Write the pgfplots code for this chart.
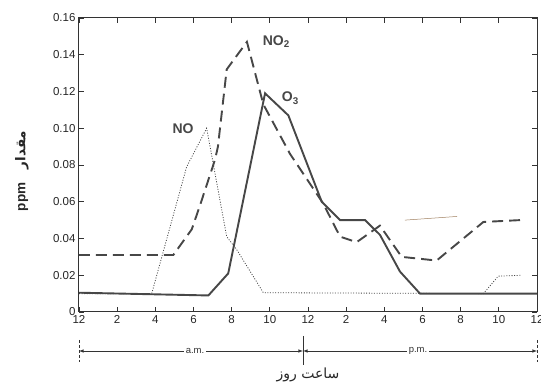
\documentclass[border=0pt]{standalone}
\usepackage{pgfplots}
\pgfplotsset{compat=1.18}
\usepackage{fontspec}
\setmainfont{Liberation Sans}
\newfontfamily\arabicfont[Script=Arabic]{DejaVu Sans}
\TeXXeTstate=1
\definecolor{ink}{gray}{0.28}
\begin{document}
\begin{tikzpicture}
\path[use as bounding box] (-79pt,-75pt) rectangle (462pt,312pt);
\begin{axis}[
  at={(0,0)}, anchor=south west, scale only axis,
  width=458pt, height=294pt,
  xmin=0, xmax=24, ymin=0, ymax=0.16,
  xtick={0,2,4,6,8,10,12,14,16,18,20,22,24},
  xticklabels={12,2,4,6,8,10,12,2,4,6,8,10,12},
  ytick={0,0.02,0.04,0.06,0.08,0.10,0.12,0.14,0.16},
  yticklabels={0,0.02,0.04,0.06,0.08,0.10,0.12,0.14,0.16},
  tick label style={font=\fontsize{11.5}{13}\selectfont, text=black!85},
  /pgf/number format/assume math mode=true,
  axis line style={line width=1pt, color=black!80},
  tick style={black!80, line width=0.8pt},
  major tick length=5pt,
  clip=false,
]
% NO2 (dashed)
\addplot[ink, line width=1.9pt, dash pattern=on 11pt off 6pt] coordinates {
 (0,0.031) (4.94,0.031) (5.91,0.045) (6.34,0.058) (7.13,0.083) (7.28,0.090)
 (7.74,0.132) (8.09,0.137) (8.80,0.147) (9.66,0.113) (11.06,0.086) (12.80,0.059)
 (13.68,0.041) (14.55,0.038) (15.77,0.047) (16.91,0.030) (18.74,0.028)
 (21.19,0.049) (23.11,0.050)
};
% O3 (solid)
\addplot[ink, line width=1.9pt] coordinates {
 (0,0.0105) (6.78,0.009) (7.82,0.021) (9.75,0.119) (10.97,0.107) (12.72,0.060)
 (13.68,0.050) (14.99,0.050) (15.77,0.042) (16.82,0.022) (17.87,0.010) (24,0.010)
};
% NO (dotted)
\addplot[ink, line width=0.8pt, dash pattern=on 1pt off 1.6pt] coordinates {
 (0,0.010) (3.81,0.010) (5.64,0.079) (6.69,0.100) (7.74,0.041) (8.26,0.034)
 (9.66,0.0105) (21.19,0.010) (21.97,0.0195) (23.20,0.020)
};
% faint stray stroke
\addplot[brown!50!gray, line width=0.5pt] coordinates {(17.08,0.050) (19.81,0.052)};

\node[font=\fontsize{14}{16}\selectfont\bfseries, text=ink, anchor=west] at (axis cs:9.45,0.147) {NO\textsubscript{2}};
\node[font=\fontsize{14}{16}\selectfont\bfseries, text=ink, anchor=west] at (axis cs:10.45,0.1164) {O\textsubscript{3}};
\node[font=\fontsize{14}{16}\selectfont\bfseries, text=ink] at (axis cs:5.45,0.100) {NO};

\node[rotate=90, font=\fontsize{13.5}{15}\selectfont\bfseries, text=black!85] at ([xshift=-57pt,yshift=-6pt]rel axis cs:0,0.5)
  {ppm\quad{\arabicfont\beginR مقدار\endR}};
\node[font=\fontsize{14}{16}\selectfont, text=black!85] at ([yshift=-63pt]axis cs:12,0) {\arabicfont\beginR ساعت روز\endR};
\end{axis}
% a.m. / p.m. bar
\begin{scope}[black!80, line width=0.6pt]
\draw[dash pattern=on 3pt off 2pt] (0pt,-28pt) -- (0pt,-50pt);
\draw[dash pattern=on 3pt off 2pt] (458pt,-28pt) -- (458pt,-50pt);
\draw[line width=0.9pt] (224pt,-24pt) -- (224pt,-53pt);
\draw[-latex] (116pt,-39pt) -- (0pt,-39pt);
\draw[-latex] (116pt,-39pt) -- (224pt,-39pt);
\draw[-latex] (339pt,-39pt) -- (224pt,-39pt);
\draw[-latex] (339pt,-39pt) -- (458pt,-39pt);
\node[fill=white, inner sep=2pt, font=\fontsize{9.5}{11}\selectfont] at (116pt,-39pt) {a.m.};
\node[fill=white, inner sep=2pt, font=\fontsize{9.5}{11}\selectfont] at (339pt,-39pt) {p.m.};
\end{scope}
\end{tikzpicture}
\end{document}
